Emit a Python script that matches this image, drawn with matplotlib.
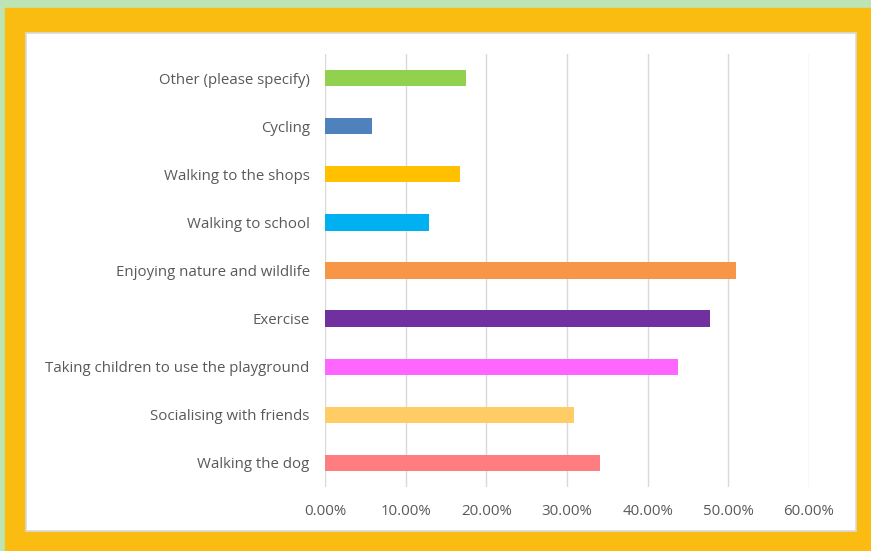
import matplotlib.pyplot as plt
from matplotlib.patches import Rectangle
from matplotlib.ticker import FuncFormatter

categories = ['Walking the dog', 'Socialising with friends',
              'Taking children to use the playground', 'Exercise',
              'Enjoying nature and wildlife', 'Walking to school',
              'Walking to the shops', 'Cycling', 'Other (please specify)']
values = [0.341, 0.309, 0.437, 0.477, 0.510, 0.129, 0.167, 0.058, 0.175]
colors = ['#FF7C80', '#FFCC66', '#FF66FF', '#7030A0', '#F79646',
          '#00B0F0', '#FFC000', '#4F81BD', '#92D050']

W, H = 871, 551
fig = plt.figure(figsize=(W / 100, H / 100), dpi=100)
fig.patch.set_facecolor('#BCE4B4')

# orange frame and white panel (behind the axes)
fig.patches.append(Rectangle((5 / W, 0), 1 - 5 / W, 1 - 8 / H,
                             transform=fig.transFigure, color='#FBBC12', zorder=-2))
fig.patches.append(Rectangle((26 / W, 1 - 531 / H), 830 / W, 498 / H,
                             transform=fig.transFigure, facecolor='white',
                             edgecolor='#D9D9D9', lw=1.2, zorder=-1))

ax = fig.add_axes([325 / W, 1 - 487 / H, 484 / W, 433 / H])
ax.set_zorder(2)
ax.set_facecolor('none')
ax.barh(range(len(categories)), values, height=0.34, color=colors, zorder=3)
ax.set_xlim(0, 0.6)
ax.set_ylim(-0.5, len(categories) - 0.5)
ax.set_xticks([0, 0.1, 0.2, 0.3, 0.4, 0.5, 0.6])
ax.xaxis.set_major_formatter(FuncFormatter(lambda v, p: f'{v * 100:.2f}%'))
ax.set_yticks(range(len(categories)))
ax.set_yticklabels(categories)
ax.grid(axis='x', color='#D9D9D9', lw=1, zorder=0)
for s in ax.spines.values():
    s.set_visible(False)
ax.tick_params(length=0, labelsize=10.8, labelcolor='#595959')
ax.tick_params(axis='x', pad=12)
ax.tick_params(axis='y', pad=11)
for lab in ax.get_xticklabels() + ax.get_yticklabels():
    lab.set_fontfamily('Open Sans')

fig.savefig('out.png', dpi=100, facecolor=fig.get_facecolor())
